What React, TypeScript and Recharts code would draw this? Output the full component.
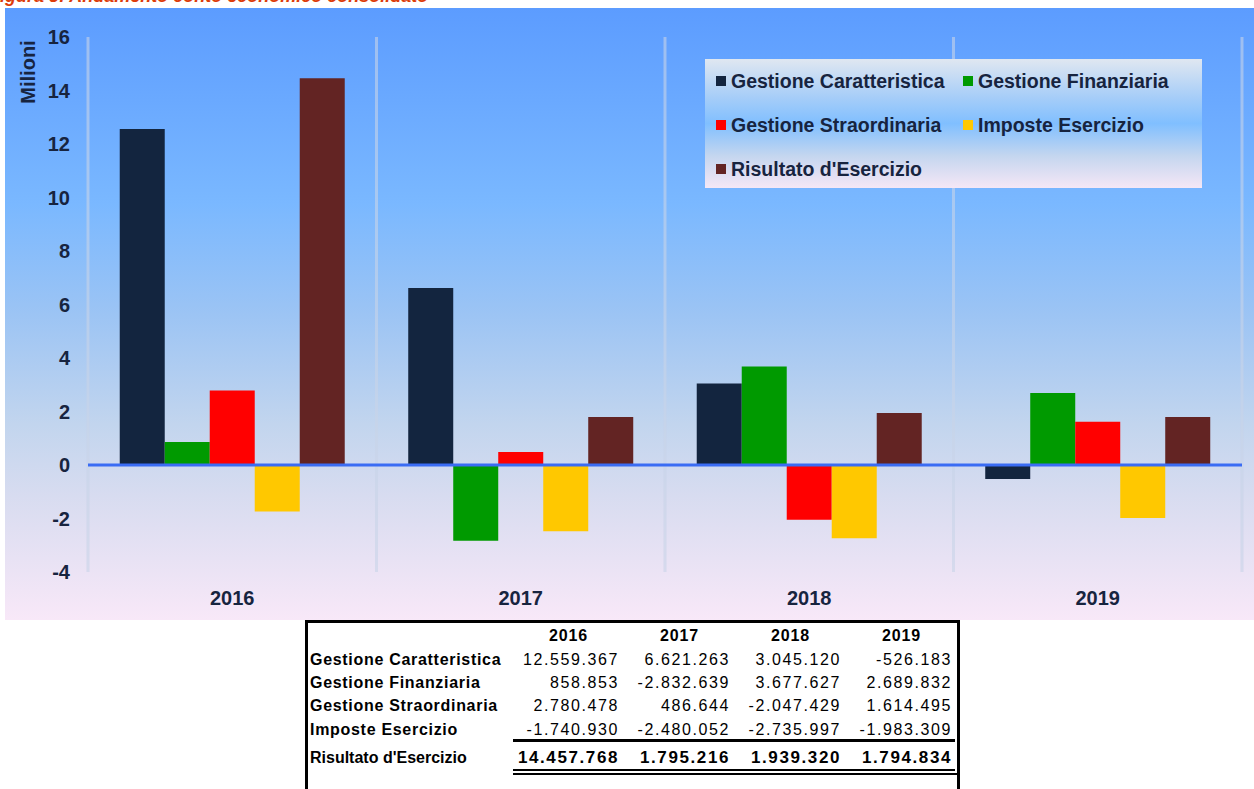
import React from 'react';
import { BarChart, Bar, XAxis, YAxis, CartesianGrid, ReferenceLine, Legend } from 'recharts';

const years = ['2016', '2017', '2018', '2019'];
const caratteristica = [12559367, 6621263, 3045120, -526183];
const finanziaria = [858853, -2832639, 3677627, 2689832];
const straordinaria = [2780478, 486644, -2047429, 1614495];
const imposte = [-1740930, -2480052, -2735997, -1983309];
const risultato = [14457768, 1795216, 1939320, 1794834];
const yTicks = [-4, -2, 0, 2, 4, 6, 8, 10, 12, 14, 16];

const seriesNames = ['Gestione Caratteristica', 'Gestione Finanziaria', 'Gestione Straordinaria', 'Imposte Esercizio', "Risultato d'Esercizio"];
const seriesKeys = ['car', 'fin', 'str', 'imp', 'ris'];
const seriesColors = ['#13253f', '#009a00', '#ff0000', '#ffc800', '#632423'];
const seriesValues = [caratteristica, finanziaria, straordinaria, imposte, risultato];

const data = years.map((y, i) => {
  const row: any = { year: y };
  seriesKeys.forEach((k, s) => { row[k] = seriesValues[s][i] / 1e6; });
  return row;
});

const fmt = (v: number) => {
  const s = Math.abs(v).toString().replace(/\B(?=(\d{3})+(?!\d))/g, '.');
  return (v < 0 ? '-' : '') + s;
};

const FONT = '"Liberation Sans", Arial, sans-serif';
const TEXT = '#17243f';

const renderLegend = (props: any) => {
  const payload = props.payload || [];
  return (
    <div style={{
      width: 497, height: 129, boxSizing: 'border-box',
      background: 'linear-gradient(to bottom, #e0e7f1 0%, #a6cdf8 30%, #80bfff 50%, #c4d6ef 75%, #f5e7f6 100%)',
      display: 'grid', gridTemplateColumns: '247px 250px', gridAutoRows: '44px',
      paddingLeft: 11, paddingTop: 0, fontFamily: FONT,
    }}>
      {payload.map((p: any) => (
        <div key={p.value} style={{ display: 'flex', alignItems: 'center', height: 44 }}>
          <span style={{ display: 'inline-block', width: 10, height: 10, background: p.color, marginRight: 5 }} />
          <span style={{ fontSize: 19.5, fontWeight: 'bold', color: TEXT, whiteSpace: 'nowrap' }}>{p.value}</span>
        </div>
      ))}
    </div>
  );
};

const yLabel = (props: any) => {
  const vb = props.viewBox || { x: 0, y: 0 };
  const x = vb.x + 23;
  const y = vb.y + 35;
  return (
    <text x={x} y={y} transform={`rotate(-90 ${x} ${y})`} textAnchor="middle" dominantBaseline="central"
      fill={TEXT} fontSize={20} fontWeight="bold" fontFamily={FONT}>Milioni</text>
  );
};

const tableRows = [
  { label: seriesNames[0], values: caratteristica },
  { label: seriesNames[1], values: finanziaria },
  { label: seriesNames[2], values: straordinaria },
  { label: seriesNames[3], values: imposte },
];

export default function App() {
  const colW = 111;
  return (
    <div style={{ position: 'absolute', left: 0, top: 0, width: 1254, height: 789, overflow: 'hidden', background: '#fff', fontFamily: FONT }}>
      <div style={{ position: 'absolute', left: -11, top: -13, fontSize: 18, fontWeight: 'bold', fontStyle: 'italic', color: '#dc3c0a', whiteSpace: 'nowrap', lineHeight: '18px' }}>
        Figura 3: Andamento conto economico consolidato
      </div>
      <div style={{
        position: 'absolute', left: 5, top: 8, width: 1249, height: 612,
        background: 'linear-gradient(to bottom, #5c9cff 0%, #6aa9ff 15%, #7ab8ff 32%, #9cc4f4 50%, #c2d5ee 68%, #d8dcf0 80%, #f8e8f8 100%)',
      }}>
        <BarChart width={1249} height={612} data={data} margin={{ top: 29, right: 12, left: 0, bottom: 0 }}
          barCategoryGap="11%" barGap={0}>
          <CartesianGrid horizontal={false} stroke="rgba(200,212,232,0.6)" strokeWidth={3}
            verticalCoordinatesGenerator={({ offset }: any) => {
              const w = offset.width;
              return [0, 1, 2, 3, 4].map(i => offset.left + (w * i) / 4);
            }} />
          <XAxis dataKey="year" axisLine={false} tickLine={false} height={48} tickMargin={13}
            tick={{ fill: TEXT, fontSize: 20, fontWeight: 'bold', fontFamily: FONT }} />
          <YAxis width={83} domain={[-4, 16]} ticks={yTicks} interval={0} axisLine={false} tickLine={false} tickMargin={12}
            tick={{ fill: TEXT, fontSize: 20, fontWeight: 'bold', fontFamily: FONT }} label={yLabel} />
          {seriesKeys.map((k, s) => (
            <Bar key={k} dataKey={k} name={seriesNames[s]} fill={seriesColors[s]} isAnimationActive={false} />
          ))}
          <ReferenceLine y={0} stroke="#3a6cf4" strokeWidth={3} />
          <Legend layout="horizontal" verticalAlign="middle" align="center" content={renderLegend}
            wrapperStyle={{ left: 700, top: 51, width: 497, height: 129 }} />
        </BarChart>
      </div>
      <div style={{
        position: 'absolute', left: 305, top: 620, width: 655, height: 180, boxSizing: 'border-box',
        borderLeft: '3px solid #000', borderRight: '3px solid #000', borderTop: '3px solid #000', background: '#fff',
      }}>
        <div style={{ position: 'absolute', left: 0, top: 1, height: 23, display: 'flex', alignItems: 'center' }}>
          <div style={{ width: 205 }} />
          {years.map(y => (
            <div key={y} style={{ width: colW, textAlign: 'center', fontSize: 16, fontWeight: 'bold', letterSpacing: 0.8 }}>{y}</div>
          ))}
        </div>
        {tableRows.map((r, i) => (
          <div key={r.label} style={{ position: 'absolute', left: 0, top: 25 + i * 23.4, height: 23, display: 'flex', alignItems: 'center', whiteSpace: 'nowrap' }}>
            <div style={{ width: 205, paddingLeft: 2, boxSizing: 'border-box', fontSize: 16, fontWeight: 'bold', letterSpacing: 0.7 }}>{r.label}</div>
            {r.values.map((v, j) => (
              <div key={j} style={{ width: colW, textAlign: 'right', paddingRight: 5, boxSizing: 'border-box', fontSize: 16, letterSpacing: 1.6 }}>{fmt(v)}</div>
            ))}
          </div>
        ))}
        <div style={{ position: 'absolute', left: 205, top: 116, width: 442, height: 3, background: '#000' }} />
        <div style={{ position: 'absolute', left: 0, top: 122, height: 25, display: 'flex', alignItems: 'center', whiteSpace: 'nowrap' }}>
          <div style={{ width: 205, paddingLeft: 2, boxSizing: 'border-box', fontSize: 16, fontWeight: 'bold', letterSpacing: 0 }}>Risultato d'Esercizio</div>
          {risultato.map((v, j) => (
            <div key={j} style={{ width: colW, textAlign: 'right', paddingRight: 5, boxSizing: 'border-box', fontSize: 17, fontWeight: 'bold', letterSpacing: 1.6 }}>{fmt(v)}</div>
          ))}
        </div>
        <div style={{ position: 'absolute', left: 205, top: 146, width: 442, height: 2, background: '#000' }} />
        <div style={{ position: 'absolute', left: 205, top: 150, width: 447, height: 2, background: '#000' }} />
      </div>
    </div>
  );
}
